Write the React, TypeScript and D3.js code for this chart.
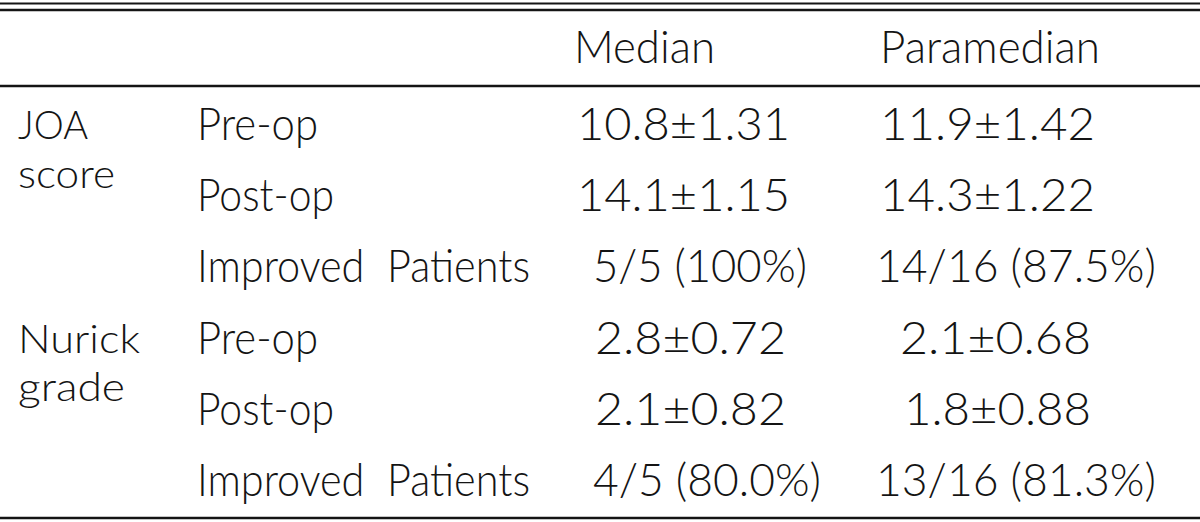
import React from "react";
import * as d3 from "d3";

// ---- data ----
const columnHeaders = ["Median", "Paramedian"];
const groups = ["JOA\nscore", "Nurick\ngrade"];
const rowLabels = ["Pre-op", "Post-op", "Improved  Patients", "Pre-op", "Post-op", "Improved  Patients"];
const medianValues = ["10.8\u00b11.31", "14.1\u00b11.15", "5/5 (100%)", "2.8\u00b10.72", "2.1\u00b10.82", "4/5 (80.0%)"];
const paramedianValues = ["11.9\u00b11.42", "14.3\u00b11.22", "14/16 (87.5%)", "2.1\u00b10.68", "1.8\u00b10.88", "13/16 (81.3%)"];

// ---- layout (not data) ----
const W = 1200;
const H = 522;
const FONT = "Lato, 'Open Sans', 'DejaVu Sans', sans-serif";
const FS = 45;
const GROUP_FS = 40;
const GROUP_LINE = 48.5;
const medianX = [577, 577, 593, 595, 595, 593];
const medianW = [213, 213, 214, 191, 191, 228];
const paraX = [880, 880, 876, 900, 904, 876];
const paraW = [215, 215, 280, 191, 187, 280];
const labelW = [121, 137, 333, 121, 137, 333];
const headerX = [574, 880];
const headerW = [141, 220];
const groupW = [[70, 97], [122, 107]];

export default function App() {
  const y = d3.scalePoint<number>().domain(d3.range(rowLabels.length)).range([140, 496]);
  const color = "#141414";
  const common = {
    lengthAdjust: "spacingAndGlyphs" as const,
    fontFamily: FONT,
    fontSize: FS,
    fontWeight: 300,
    fill: color,
    style: { whiteSpace: "pre" as const },
  };
  const t = (s: string, x: number, yy: number, w: number, key: string) => (
    <text key={key} x={x} y={yy} textLength={w} {...common}>
      {s}
    </text>
  );
  return (
    <svg width={W} height={H} style={{ position: "absolute", left: 0, top: 0, background: "#fff" }}>
      <rect width={W} height={H} fill="#fff" />
      <line x1={0} x2={W} y1={3.5} y2={3.5} stroke={color} strokeWidth={2} />
      <line x1={0} x2={W} y1={10} y2={10} stroke={color} strokeWidth={2.5} />
      <line x1={0} x2={W} y1={86} y2={86} stroke={color} strokeWidth={2.5} />
      <line x1={0} x2={W} y1={518} y2={518} stroke={color} strokeWidth={2.5} />
      {columnHeaders.map((h, i) => t(h, headerX[i], 63, headerW[i], "h" + i))}
      {groups.map((g, gi) => {
        const parts = g.split("\n");
        const base = y(gi * 3)! - 1;
        return (
          <text key={"g" + gi} x={18} y={base} fontFamily={FONT} fontSize={GROUP_FS} fontWeight={300} fill={color}>
            {parts.map((p, pi) => (
              <tspan key={pi} x={18} y={base + pi * GROUP_LINE} textLength={groupW[gi][pi]} lengthAdjust="spacingAndGlyphs">
                {p}
              </tspan>
            ))}
          </text>
        );
      })}
      {rowLabels.map((r, i) => t(r, 197, y(i)!, labelW[i], "r" + i))}
      {medianValues.map((v, i) => t(v, medianX[i], y(i)!, medianW[i], "m" + i))}
      {paramedianValues.map((v, i) => t(v, paraX[i], y(i)!, paraW[i], "p" + i))}
    </svg>
  );
}
